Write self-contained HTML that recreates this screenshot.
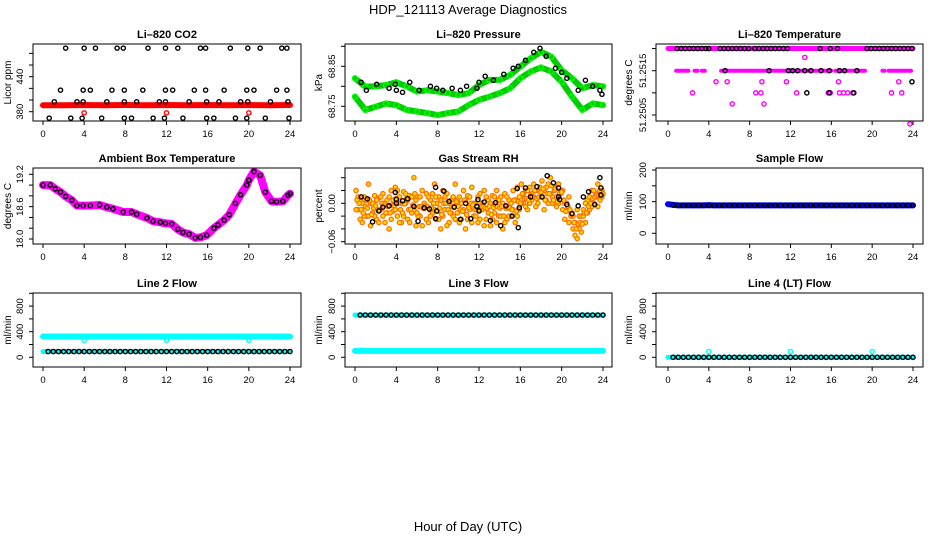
<!DOCTYPE html>
<html><head><meta charset="utf-8">
<style>
html,body{margin:0;padding:0;background:#fff;}
svg{display:block;font-family:"Liberation Sans",Arial,sans-serif;}
</style></head>
<body>
<svg id="chart" width="936" height="540" viewBox="0 0 936 540">
<text x="468" y="14" text-anchor="middle" font-size="13">HDP_121113  Average Diagnostics</text>
<text x="468" y="531" text-anchor="middle" font-size="13">Hour of Day (UTC)</text>
</svg>
<script>
// ---------- data ----------
const xTicks = [0,4,8,12,16,20,24];
// CO2
const co2BandH = [0,2,4,6,8,10,12,14,16,18,20,22,24];
const co2BandV = [391,391,391.5,391,391.5,391,391.5,391,391.5,391,391.5,391,391.5];
const co2TopH = [2.2,4.0,5.1,7.2,7.8,10.2,11.9,13.1,15.3,15.8,18.2,19.9,21.1,23.2,23.7];
const co2MidH = [1.7,3.9,4.6,6.7,7.9,9.7,11.9,12.6,14.7,15.8,17.6,19.8,20.5,22.7,23.7];
const co2LowH = [1.1,3.3,3.9,6.2,7.9,9.1,11.3,11.9,14.2,15.9,17.1,19.2,19.9,22.1,23.8];
const co2BotH = [0.6,2.7,3.8,5.7,7.9,8.6,10.7,11.8,13.6,15.9,16.6,18.7,19.8,21.6,23.9];
const co2RedH = [4,12,20];
const co2Levels = [489,417,397,369,378];
// Pressure
const presH = [0,1,2,3,4,5,6,7,8,9,10,11,12,13,14,15,16,17,18,19,20,21,22,23,24];
const presUp = [68.82,68.799,68.80,68.803,68.81,68.80,68.787,68.79,68.787,68.783,68.778,68.783,68.803,68.816,68.816,68.828,68.849,68.87,68.886,68.874,68.84,68.82,68.795,68.803,68.80];
const presLo = [68.774,68.741,68.749,68.757,68.753,68.741,68.737,68.733,68.728,68.733,68.737,68.753,68.766,68.774,68.783,68.795,68.82,68.837,68.847,68.837,68.811,68.774,68.741,68.757,68.753];
const presBlkH = [0.6,1.1,2.1,3.3,3.9,4.0,4.6,5.3,6.2,7.3,7.9,8.5,9.4,10.2,10.8,11.8,12.0,12.6,13.4,14.4,15.3,15.8,16.5,17.3,17.9,18.5,19.4,20.0,20.5,21.6,22.3,23.0,23.7,23.9];
const presBlkV = [68.81,68.79,68.805,68.795,68.805,68.79,68.785,68.81,68.79,68.80,68.795,68.79,68.795,68.79,68.80,68.795,68.81,68.825,68.815,68.83,68.845,68.85,68.865,68.885,68.895,68.875,68.845,68.835,68.82,68.79,68.815,68.8,68.79,68.78];
// Li-820 temperature
const tTopSeg = [[0,24]];
const tMidSeg = [[0.8,2.0],[2.6,2.9],[3.3,3.6],[5.2,11.7],[12.0,16.0],[16.4,19.3],[21.0,21.2],[21.6,23.8]];
const tTopBlkH = [0.9,1.3,1.7,2.1,2.5,2.9,3.3,3.7,4.0,5.1,5.5,5.9,6.3,6.7,7.1,7.5,7.9,8.5,8.9,9.3,9.7,10.1,10.5,10.9,11.3,11.7,14.9,15.9,16.6,19.5,19.9,20.3,20.7,21.1,21.5,21.9,22.3,22.7,23.1,23.5,23.9];
const tMidBlkH = [5.6,9.9,11.8,12.2,12.7,13.4,14.0,15.0,15.8,16.8,17.3,18.5];
const tLevV = [51.25125,51.2510,51.25075,51.2518,51.2503];
const tLevMag = [[4.7,5.8,9.2,11.6,16.7,22.6],[2.4,8.6,9.1,12.6,15.7,15.9,16.8,17.2,17.6,18.1,21.9,22.9],[6.3,9.4],[13.4],[23.7]];
const tLevBlk = [[23.9],[13.6,15.8,18.2],[],[],[]];
// Ambient
const ambH = [0,0.7,1.2,1.7,2.2,2.8,3.3,3.9,4.6,5.5,6.2,6.8,7.8,8.6,9.1,10.1,10.7,11.4,11.9,12.5,13.1,13.6,14.2,14.8,15.3,15.9,16.6,17.0,17.6,18.1,18.7,19.2,19.8,20.0,20.5,21.1,21.6,22.2,22.7,23.3,23.8,24];
const ambV = [19.0,19.0,18.93,18.87,18.79,18.72,18.62,18.62,18.62,18.63,18.59,18.56,18.5,18.5,18.46,18.39,18.33,18.31,18.29,18.28,18.18,18.12,18.09,18.02,18.03,18.07,18.2,18.26,18.35,18.45,18.66,18.82,19.0,19.09,19.25,19.18,18.87,18.7,18.69,18.7,18.81,18.84];
// RH
const rhBlkH = [0.6,1.2,1.7,2.3,2.7,3.3,3.9,4.0,4.0,4.6,5.1,5.7,6.1,6.7,7.2,7.8,7.8,7.9,8.6,9.1,9.6,10.2,10.7,11.2,11.8,11.9,12.0,12.5,13.1,13.6,14.1,14.6,15.2,15.7,15.8,15.9,16.5,17.0,17.6,18.1,18.6,19.2,19.7,19.7,19.8,20.5,21.0,21.6,22.1,22.6,23.2,23.7,23.8,23.8];
const rhBlkV = [0.010,0.007,-0.029,-0.012,-0.006,-0.004,0.017,0.006,0.0,0.004,0.007,-0.005,-0.028,-0.007,-0.009,0.025,-0.024,-0.012,0.019,0.003,-0.006,-0.025,0.0,-0.024,-0.005,0.006,-0.012,0.002,-0.027,0.001,-0.035,-0.004,-0.02,0.023,-0.038,-0.007,0.024,0.01,0.026,0.01,0.043,0.032,0.024,0.01,0.006,-0.002,-0.016,-0.004,0.01,0.018,-0.002,0.04,0.024,0.013];
const rhCloudH = [0.1,0.3,0.5,0.7,0.9,1.1,1.3,1.5,1.7,1.9,2.1,2.3,2.5,2.7,2.9,3.1,3.3,3.5,3.7,3.9,4.1,4.3,4.5,4.7,4.9,5.1,5.3,5.5,5.7,5.9,6.1,6.3,6.5,6.7,6.9,7.1,7.3,7.5,7.7,7.9,8.1,8.3,8.5,8.7,8.9,9.1,9.3,9.5,9.7,9.9,10.1,10.3,10.5,10.7,10.9,11.1,11.3,11.5,11.7,11.9,12.1,12.3,12.5,12.7,12.9,13.1,13.3,13.5,13.7,13.9,14.1,14.3,14.5,14.7,14.9,15.1,15.3,15.5,15.7,15.9,16.1,16.3,16.5,16.7,16.9,17.1,17.3,17.5,17.7,17.9,18.1,18.3,18.5,18.7,18.9,19.1,19.3,19.5,19.7,19.9,20.1,20.3,20.5,20.7,20.9,21.1,21.3,21.5,21.7,21.9,22.1,22.3,22.5,22.7,22.9,23.1,23.3,23.5,23.7,23.9];
const rhCloudA = [0.02,-0.01,0.005,-0.03,0.01,-0.02,0.03,0.0,-0.015,0.012,-0.025,0.008,-0.01,0.015,-0.03,0.005,-0.04,0.02,-0.012,0.025,-0.02,0.01,-0.03,0.018,0.0,-0.025,0.012,-0.015,0.04,-0.035,0.01,-0.02,0.02,-0.008,0.015,-0.03,0.005,-0.015,0.03,-0.025,0.01,-0.04,0.02,-0.01,0.015,-0.03,0.005,-0.02,0.03,-0.015,0.01,-0.025,0.02,-0.04,0.012,-0.01,0.025,-0.02,0.0,-0.03,0.015,-0.01,0.02,-0.025,0.005,-0.035,0.012,-0.015,0.02,-0.02,0.01,-0.04,0.015,-0.025,0.005,-0.02,0.02,-0.03,0.025,-0.01,0.03,0.0,0.02,-0.01,0.025,0.005,0.03,-0.005,0.02,0.01,0.035,-0.01,0.025,0.0,0.04,0.01,0.02,-0.005,0.03,0.015,0.02,0.0,-0.01,0.01,-0.02,-0.04,-0.03,-0.055,-0.02,-0.045,-0.01,-0.03,0.005,-0.01,0.02,0.0,0.015,0.03,0.005,0.02];
const rhCloudB = [-0.01,0.01,-0.025,0.0,-0.02,0.005,-0.02,-0.035,0.0,-0.02,0.005,-0.03,0.01,-0.02,0.0,-0.015,0.01,-0.025,0.005,-0.01,0.02,-0.03,0.0,-0.02,0.015,0.005,-0.03,0.01,-0.01,0.005,-0.02,0.01,-0.035,0.0,-0.025,0.01,-0.02,0.015,-0.01,0.0,-0.025,0.005,-0.02,0.01,-0.035,0.0,-0.015,0.01,-0.025,0.005,-0.03,0.0,-0.01,0.005,-0.025,0.01,-0.03,0.0,-0.02,0.01,-0.025,0.0,-0.035,0.01,-0.015,0.0,-0.025,0.01,-0.03,0.005,-0.02,0.0,-0.03,0.01,-0.02,0.0,-0.01,0.005,-0.02,0.01,0.0,0.015,-0.005,0.02,0.0,0.015,0.01,0.02,0.0,0.025,0.01,0.02,0.005,0.03,0.015,0.0,0.025,0.01,0.0,0.02,-0.01,-0.025,0.0,-0.03,-0.015,-0.02,-0.05,-0.01,-0.04,-0.02,-0.02,0.0,-0.015,0.01,-0.005,0.02,0.01,-0.005,0.02,0.01];
// Flows
const flowH = [0.5,1,1.5,2,2.5,3,3.5,4,4.5,5,5.5,6,6.5,7,7.5,8,8.5,9,9.5,10,10.5,11,11.5,12,12.5,13,13.5,14,14.5,15,15.5,16,16.5,17,17.5,18,18.5,19,19.5,20,20.5,21,21.5,22,22.5,23,23.5,24];
const sampleBlue = [90,88,88,88,88,88,88,89,88,88,88,88,88,88,88,88,88,88,88,88,88,88,88,88,88,88,88,88,88,88,88,88,88,88,88,88,88,88,88,88,88,88,88,88,88,88,88,88];
const sampleBlk = [89,88,88,88,88,88,88,88,88,88,88,88,88,88,88,88,88,88,88,88,88,88,88,88,88,88,88,88,88,88,88,88,88,88,88,88,88,88,88,88,88,88,88,88,88,88,88,88];
const l2Cyan = [325,325,325,325,325,325,325,325,325,325,325,325,325,325,325,325,325,325,325,325,325,325,325,325,325,325,325,325,325,325,325,325,325,325,325,325,325,325,325,325,325,325,325,325,325,325,325,325];
const l2Blk = [90,90,90,90,90,90,90,90,90,90,90,90,90,90,90,90,90,90,90,90,90,90,90,90,90,90,90,90,90,90,90,90,90,90,90,90,90,90,90,90,90,90,90,90,90,90,90,90];
const l2DipH = [4,12,20];
const l2DipV = [265,265,265];
const l3Blk = [660,660,660,660,660,660,660,660,660,660,660,660,660,660,660,660,660,660,660,660,660,660,660,660,660,660,660,660,660,660,660,660,660,660,660,660,660,660,660,660,660,660,660,660,660,660,660,660];
const l3Cyan = [100,100,100,100,100,100,100,100,100,100,100,100,100,100,100,100,100,100,100,100,100,100,100,100,100,100,100,100,100,100,100,100,100,100,100,100,100,100,100,100,100,100,100,100,100,100,100,100];
const l4Blk = [0,0,0,0,0,0,0,0,0,0,0,0,0,0,0,0,0,0,0,0,0,0,0,0,0,0,0,0,0,0,0,0,0,0,0,0,0,0,0,0,0,0,0,0,0,0,0,0];
const l4SpikeH = [4,12,20];
const l4SpikeV = [90,90,90];

// ---------- drawing ----------
const NS = "http://www.w3.org/2000/svg";
const svg = document.getElementById('chart');
function mk(tag, attrs, parent){ const e=document.createElementNS(NS,tag); for(const k in attrs) e.setAttribute(k,attrs[k]); (parent||svg).appendChild(e); return e; }

const cols = [{L:33,R:301,x0:43,x24:290,yl:8,tl:20},{L:345,R:612,x0:355,x24:603,yl:319,tl:332},{L:656,R:923,x0:668,x24:913,yl:629,tl:643}];
const rows = [{T:44,B:121},{T:168,B:244},{T:293,B:367}];

function panel(ci, ri, name, title, ylab, yv1, yp1, yv2, yp2, ticks, labels){
  const c=cols[ci], r=rows[ri];
  const g = mk('g',{}); 
  
  
  const xs = h => c.x0 + (h/24)*(c.x24-c.x0);
  const ys = v => yp1 + (v-yv1)/(yv2-yv1)*(yp2-yp1);
  const t = mk('text',{x:(c.L+c.R)/2,y:r.T-6,'text-anchor':'middle','font-size':11,'font-weight':'bold'},g);
  t.textContent = title;
  
  
  const yl = mk('text',{x:0,y:0,'text-anchor':'middle','font-size':10,transform:`translate(${c.yl+3},${(r.T+r.B)/2}) rotate(-90)`},g);
  yl.textContent = ylab;
  
  
  const xa = mk('g',{},g);
  
  
  mk('line',{x1:xs(0),x2:xs(24),y1:r.B,y2:r.B,stroke:'#000'},xa);
  xTicks.forEach(h=>{
    mk('line',{x1:xs(h),x2:xs(h),y1:r.B,y2:r.B+4,stroke:'#000'},xa);
    const tl=mk('text',{x:xs(h),y:r.B+16,'text-anchor':'middle','font-size':9.5},xa);
    tl.textContent=h;
  });
  const ya = mk('g',{},g);
  
  
  ticks.forEach(v=>{ mk('line',{x1:c.L-4,x2:c.L,y1:ys(v),y2:ys(v),stroke:'#000'},ya); });
  labels.forEach(l=>{
    const tl=mk('text',{x:0,y:0,'text-anchor':'middle','font-size':9.5,transform:`translate(${c.tl+3},${ys(l[0])}) rotate(-90)`},ya);
    tl.textContent=l[1];
  });
  const pg = mk('g',{},g);
  
  
  const box = mk('rect',{x:c.L,y:r.T,width:c.R-c.L,height:r.B-r.T,fill:'none',stroke:'#000'},g);
  
  
  return {xs,ys,g:pg};
}
function pts(P, H, V, color, sname, r, fill, sw){
  const g = mk('g',{},P.g);
  
  
  H.forEach((h,i)=>{
    mk('circle',{cx:P.xs(h),cy:P.ys(Array.isArray(V)?V[i]:V),r:r||2.1,fill:fill||'none',stroke:color,'stroke-width':sw||1.4},g);
  });
}
function band(P, H, V, color, sname, w){
  const d = H.map((h,i)=>(i?'L':'M')+P.xs(h).toFixed(1)+','+P.ys(V[i]).toFixed(1)).join(' ');
  const p = mk('path',{d,fill:'none',stroke:color,'stroke-width':w,'stroke-linejoin':'round','stroke-linecap':'round'},P.g);
  
  
}

let P = panel(0,0,'co2-panel','Li\u2013820 CO2','Licor ppm',380,111.7,440,76.7,[380,400,420,440,460,480],[[380,'380'],[440,'440']]);
band(P, co2BandH, co2BandV, '#ff0000', 'co2-red-band', 6);
pts(P, co2RedH, co2Levels[4], '#ff0000', 'co2-red-points');
pts(P, co2TopH, co2Levels[0], '#000', 'co2-black-top');
pts(P, co2MidH, co2Levels[1], '#000', 'co2-black-mid');
pts(P, co2LowH, co2Levels[2], '#000', 'co2-black-low');
pts(P, co2BotH, co2Levels[3], '#000', 'co2-black-bottom');

P = panel(1,0,'pressure-panel','Li\u2013820 Pressure','kPa',68.75,106.3,68.85,66.3,[68.75,68.80,68.85,68.90],[[68.75,'68.75'],[68.85,'68.85']]);
band(P, presH, presUp, '#00cc00', 'pressure-upper-band', 6);
band(P, presH, presLo, '#00cc00', 'pressure-lower-band', 6);
pts(P, presH, presUp, '#00ff00', 'pressure-upper-points', 2.5);
pts(P, presH, presLo, '#00ff00', 'pressure-lower-points', 2.5);
pts(P, presBlkH, presBlkV, '#000', 'pressure-black-points');

P = panel(2,0,'li820-temperature-panel','Li\u2013820 Temperature','degrees C',51.2505,115,51.2515,70.7,[51.2505,51.2510,51.2515,51.2520],[[51.2505,'51.2505'],[51.2515,'51.2515']]);
tTopSeg.forEach(s=>band(P, s, [51.2520,51.2520], '#ff00ff', 'temp-top-band', 5));
tMidSeg.forEach(s=>band(P, s, [51.2515,51.2515], '#ff00ff', 'temp-mid-band', 4));
pts(P, tTopBlkH, 51.2520, '#000', 'temp-top-black');
pts(P, tMidBlkH, 51.2515, '#000', 'temp-mid-black');
tLevV.forEach((v,i)=>{ pts(P, tLevMag[i], v, '#ff00ff', 'temp-magenta-level-'+i); pts(P, tLevBlk[i], v, '#000', 'temp-black-level-'+i); });

P = panel(0,1,'ambient-temperature-panel','Ambient Box Temperature','degrees C',18.0,239,19.2,174.3,[18.0,18.2,18.4,18.6,18.8,19.0,19.2],[[18.0,'18.0'],[18.6,'18.6'],[19.2,'19.2']]);
band(P, ambH, ambV, '#ff00ff', 'ambient-magenta-band', 8);
pts(P, ambH, ambV, '#000', 'ambient-black-points');

P = panel(1,1,'gas-rh-panel','Gas Stream RH','percent',0,203.3,-0.06,241.7,[-0.06,-0.04,-0.02,0,0.02,0.04],[[-0.06,'\u22120.06'],[0,'0.00']]);
pts(P, rhCloudH, rhCloudA, '#ff6a00', 'rh-orange-cloud-a', 2.2, '#ffdd00', 1.2);
pts(P, rhCloudH, rhCloudB, '#ff6a00', 'rh-orange-cloud-b', 2.2, '#ffdd00', 1.2);
pts(P, rhCloudH.map(h=>h+0.1), rhCloudB.map((v,i)=>(v+rhCloudA[i])/2), '#ff6a00', 'rh-orange-cloud-c', 2.2, '#ffdd00', 1.2);
pts(P, rhBlkH, rhBlkV, '#000', 'rh-black-points');

P = panel(2,1,'sample-flow-panel','Sample Flow','ml/min',0,233.3,200,170,[0,50,100,150,200],[[0,'0'],[100,'100'],[200,'200']]);
band(P, [0].concat(flowH), [92].concat(sampleBlue), '#0000ff', 'sample-blue-band', 6);
pts(P, flowH, sampleBlk, '#000', 'sample-black-points');

P = panel(0,2,'line2-flow-panel','Line 2 Flow','ml/min',0,357.3,400,331.7,[0,200,400,600,800,1000],[[0,'0'],[400,'400'],[800,'800']]);
band(P, [0].concat(flowH), [325].concat(l2Cyan), '#00ffff', 'line2-cyan-band', 6);
band(P, [0].concat(flowH), [90].concat(l2Blk), '#00ffff', 'line2-cyan-low-band', 5);
pts(P, l2DipH, l2DipV, '#00ffff', 'line2-cyan-dips');
pts(P, flowH, l2Blk, '#000', 'line2-black-points');

P = panel(1,2,'line3-flow-panel','Line 3 Flow','ml/min',0,357.3,400,331.7,[0,200,400,600,800,1000],[[0,'0'],[400,'400'],[800,'800']]);
band(P, [0].concat(flowH), [660].concat(l3Blk), '#00ffff', 'line3-cyan-high-band', 5);
band(P, [0].concat(flowH), [100].concat(l3Cyan), '#00ffff', 'line3-cyan-band', 6);
pts(P, flowH, l3Blk, '#000', 'line3-black-points');

P = panel(2,2,'line4-flow-panel','Line 4 (LT) Flow','ml/min',0,357.3,400,331.7,[0,200,400,600,800,1000],[[0,'0'],[400,'400'],[800,'800']]);
band(P, [0].concat(flowH), [0].concat(l4Blk), '#00ffff', 'line4-cyan-band', 5);
pts(P, l4SpikeH, l4SpikeV, '#00ffff', 'line4-cyan-spikes');
pts(P, flowH, l4Blk, '#000', 'line4-black-points');
</script>
</body></html>
